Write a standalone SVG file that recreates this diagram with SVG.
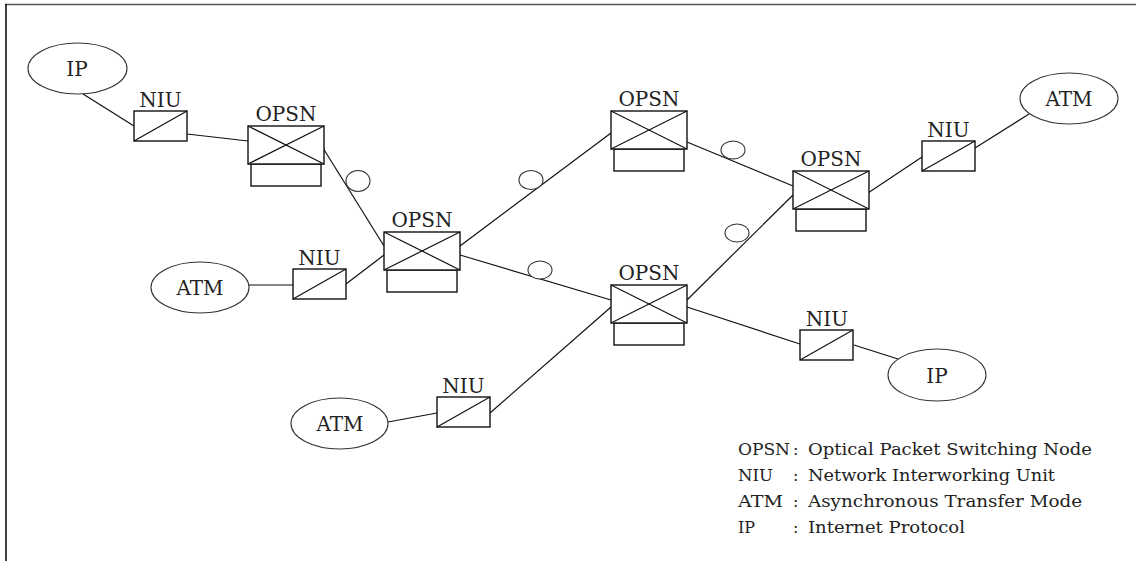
<svg xmlns="http://www.w3.org/2000/svg" width="1136" height="561" viewBox="0 0 1136 561">
<style>
  .ln { stroke: #111; stroke-width: 1.2; fill: none; }
  .box { stroke: #111; stroke-width: 1.4; fill: #fff; }
  .ell { stroke: #333; stroke-width: 1.1; fill: #fff; }
  .lbl { font-family: "DejaVu Serif", "Liberation Serif", serif; font-size: 20px; fill: #222; text-anchor: middle; }
  .leg { font-family: "DejaVu Serif", "Liberation Serif", serif; font-size: 16px; fill: #222; }
</style>
<defs>
  <g id="opsnShape">
    <rect class="box" x="3" y="38" width="70" height="22"/>
    <rect class="box" x="0" y="0" width="76" height="38"/>
    <line class="ln" x1="0" y1="0" x2="76" y2="38"/>
    <line class="ln" x1="0" y1="38" x2="76" y2="0"/>
  </g>
  <g id="niuShape">
    <rect class="box" x="0" y="0" width="53" height="30"/>
    <line class="ln" x1="0" y1="30" x2="53" y2="0"/>
  </g>
</defs>
<rect x="0" y="0" width="1136" height="561" fill="#fff"/>
<line x1="5" y1="4.5" x2="1136" y2="4.5" stroke="#555" stroke-width="1.3"/>
<line x1="6" y1="4" x2="6" y2="561" stroke="#111" stroke-width="1.6"/>

<g id="connectors">
  <line class="ln" x1="83" y1="94" x2="134" y2="126"/>
  <line class="ln" x1="187" y1="134" x2="248" y2="141"/>
  <line class="ln" x1="323" y1="148" x2="384" y2="246"/>
  <line class="ln" x1="249" y1="285" x2="293" y2="285"/>
  <line class="ln" x1="346" y1="284" x2="384" y2="255"/>
  <line class="ln" x1="460" y1="246" x2="611" y2="133"/>
  <line class="ln" x1="460" y1="255" x2="611" y2="300"/>
  <line class="ln" x1="687" y1="142" x2="793" y2="186"/>
  <line class="ln" x1="687" y1="300" x2="793" y2="195"/>
  <line class="ln" x1="868" y1="193" x2="922" y2="157"/>
  <line class="ln" x1="975" y1="148" x2="1029" y2="114"/>
  <line class="ln" x1="388" y1="422" x2="437" y2="413"/>
  <line class="ln" x1="490" y1="413" x2="611" y2="307"/>
  <line class="ln" x1="687" y1="307" x2="800" y2="344"/>
  <line class="ln" x1="854" y1="345" x2="898" y2="359"/>
  <ellipse class="ell" cx="358" cy="181" rx="12" ry="10.5"/>
  <ellipse class="ell" cx="531" cy="180" rx="12" ry="9.5"/>
  <ellipse class="ell" cx="540" cy="270" rx="12" ry="9"/>
  <ellipse class="ell" cx="733" cy="150" rx="12" ry="9"/>
  <ellipse class="ell" cx="737" cy="233" rx="12" ry="9"/>
</g>

<g id="ip1">
  <ellipse class="ell" cx="77.5" cy="68.5" rx="49.5" ry="25.5"/>
  <text class="lbl" x="77" y="76">IP</text>
</g>
<g id="atm1">
  <ellipse class="ell" cx="200" cy="287.5" rx="49" ry="25.5"/>
  <text class="lbl" x="200" y="295">ATM</text>
</g>
<g id="atm2">
  <ellipse class="ell" cx="1069" cy="98.5" rx="49" ry="25.5"/>
  <text class="lbl" x="1069" y="106">ATM</text>
</g>
<g id="atm3">
  <ellipse class="ell" cx="339.5" cy="423.5" rx="48.5" ry="25.5"/>
  <text class="lbl" x="340" y="431">ATM</text>
</g>
<g id="ip2">
  <ellipse class="ell" cx="937" cy="375" rx="49" ry="26"/>
  <text class="lbl" x="937" y="383">IP</text>
</g>

<g id="niu1">
  <use href="#niuShape" x="134" y="111"/>
  <text class="lbl" x="160.5" y="107">NIU</text>
</g>
<g id="niu2">
  <use href="#niuShape" x="293" y="269"/>
  <text class="lbl" x="319.5" y="265">NIU</text>
</g>
<g id="niu3">
  <use href="#niuShape" x="437" y="397"/>
  <text class="lbl" x="463.5" y="393">NIU</text>
</g>
<g id="niu4">
  <use href="#niuShape" x="800" y="330"/>
  <text class="lbl" x="827" y="326">NIU</text>
</g>
<g id="niu5">
  <use href="#niuShape" x="922" y="141"/>
  <text class="lbl" x="948.5" y="137">NIU</text>
</g>

<g id="opsn1">
  <use href="#opsnShape" x="248" y="126"/>
  <text class="lbl" x="286" y="121">OPSN</text>
</g>
<g id="opsn2">
  <use href="#opsnShape" x="384" y="232"/>
  <text class="lbl" x="422" y="227">OPSN</text>
</g>
<g id="opsn3">
  <use href="#opsnShape" x="611" y="111"/>
  <text class="lbl" x="649" y="106">OPSN</text>
</g>
<g id="opsn4">
  <use href="#opsnShape" x="611" y="285"/>
  <text class="lbl" x="649" y="280">OPSN</text>
</g>
<g id="opsn5">
  <use href="#opsnShape" x="793" y="171"/>
  <text class="lbl" x="831" y="166">OPSN</text>
</g>

<g id="legend">
  <text class="leg" x="738" y="455" textLength="52" lengthAdjust="spacingAndGlyphs">OPSN</text>
  <text class="leg" x="793" y="455">:</text>
  <text class="leg" x="808" y="455" textLength="284" lengthAdjust="spacingAndGlyphs">Optical Packet Switching Node</text>
  <text class="leg" x="738" y="481" textLength="35" lengthAdjust="spacingAndGlyphs">NIU</text>
  <text class="leg" x="793" y="481">:</text>
  <text class="leg" x="808" y="481" textLength="247" lengthAdjust="spacingAndGlyphs">Network Interworking Unit</text>
  <text class="leg" x="738" y="507" textLength="45" lengthAdjust="spacingAndGlyphs">ATM</text>
  <text class="leg" x="793" y="507">:</text>
  <text class="leg" x="808" y="507" textLength="274" lengthAdjust="spacingAndGlyphs">Asynchronous Transfer Mode</text>
  <text class="leg" x="738" y="533" textLength="17" lengthAdjust="spacingAndGlyphs">IP</text>
  <text class="leg" x="793" y="533">:</text>
  <text class="leg" x="808" y="533" textLength="157" lengthAdjust="spacingAndGlyphs">Internet Protocol</text>
</g>
</svg>
